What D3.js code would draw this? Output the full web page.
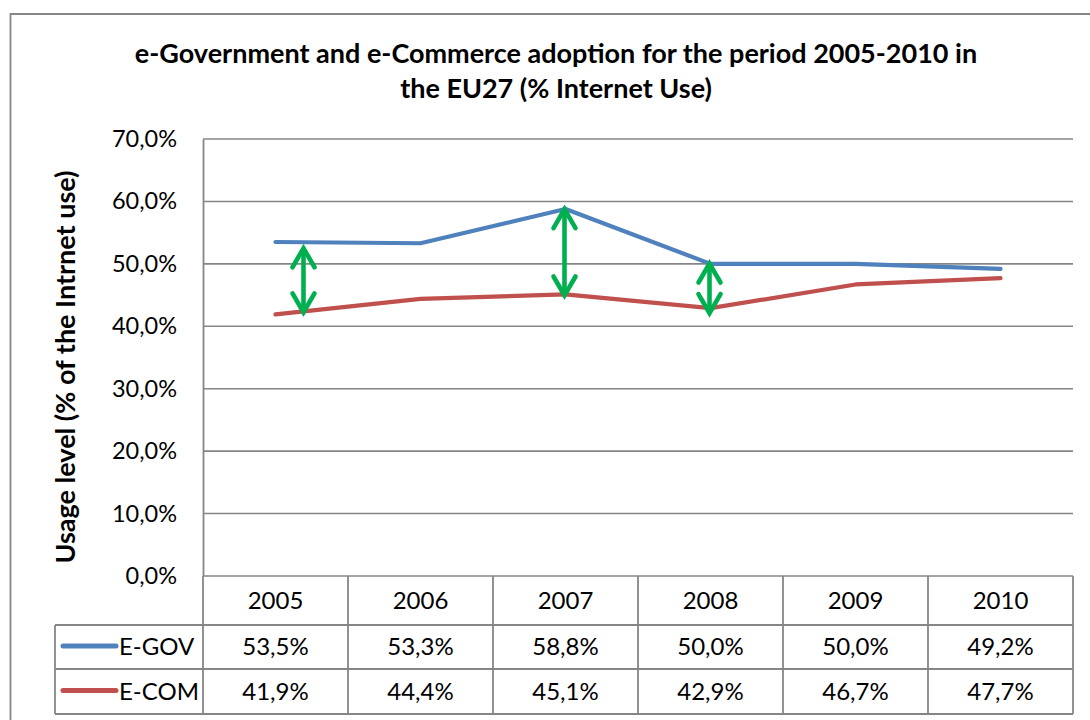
<!DOCTYPE html>
<html>
<head>
<meta charset="utf-8">
<script src="https://cdn.jsdelivr.net/npm/d3@7"></script>
<style>
  html, body { margin: 0; padding: 0; background: #fff; }
  svg { display: block; }
  text { font-family: Lato, "Liberation Sans", sans-serif; fill: #000; }
</style>
</head>
<body>
<svg id="chart" width="1090" height="720"></svg>
<script>
// Series data (share of Internet users, %)
const years = ["2005", "2006", "2007", "2008", "2009", "2010"];
const egov = [53.5, 53.3, 58.8, 50.0, 50.0, 49.2];
const ecom = [41.9, 44.4, 45.1, 42.9, 46.7, 47.7];
const seriesNames = ["E-GOV", "E-COM"];
const seriesColors = ["#4F81BD", "#C0504D"];
const yTicks = [0, 10, 20, 30, 40, 50, 60, 70];
// Years where the gap between the two series is highlighted
const gapYears = ["2005", "2007", "2008"];

const titleLines = [
  "e-Government and e-Commerce adoption for the period 2005-2010 in",
  "the EU27 (% Internet Use)"
];
const yTitle = "Usage level (% of the Intrnet use)";

const svg = d3.select("#chart");
const grid = "#868686";
const fmt = v => v.toFixed(1).replace(".", ",") + "%";

const plot = { left: 203, right: 1073, top: 139, bottom: 576 };
const rowH = [49, 44, 45];

const x = d3.scaleBand().domain(years).range([plot.left, plot.right]);
const y = d3.scaleLinear().domain([0, 70]).range([plot.bottom, plot.top]);
const cx = d => x(d) + x.bandwidth() / 2;

// Outer chart frame
svg.append("path")
  .attr("d", "M1092,14 H10.5 V722")
  .attr("fill", "none").attr("stroke", grid).attr("stroke-width", 1.8);

// Title
const title = svg.append("text")
  .attr("x", 556).attr("text-anchor", "middle")
  .style("font-weight", "bold").style("font-size", "27px");
titleLines.forEach((t, i) => {
  title.append("tspan").attr("x", 556).attr("y", 63 + i * 35).text(t);
});

// Horizontal gridlines
svg.append("g").selectAll("line").data(yTicks).join("line")
  .attr("x1", plot.left).attr("x2", plot.right)
  .attr("y1", d => y(d)).attr("y2", d => y(d))
  .attr("stroke", grid).attr("stroke-width", 1.6);

// Value axis
const yAxis = d3.axisLeft(y).tickValues(yTicks).tickSize(0).tickPadding(26)
  .tickFormat(fmt);
const gy = svg.append("g").attr("transform", `translate(${plot.left},0)`).call(yAxis);
gy.select(".domain").attr("stroke", grid).attr("stroke-width", 1.8);
gy.selectAll("text").style("font-size", "23.5px").style("font-family", "Lato, sans-serif")
  .attr("fill", "#000");

// Value axis title
svg.append("text")
  .attr("transform", "translate(75,367) rotate(-90)")
  .attr("text-anchor", "middle")
  .style("font-weight", "bold").style("font-size", "27px")
  .text(yTitle);

// Lines
const line = d3.line().x((d, i) => cx(years[i])).y(d => y(d));
[egov, ecom].forEach((vals, k) => {
  svg.append("path").datum(vals)
    .attr("d", line)
    .attr("fill", "none")
    .attr("stroke", seriesColors[k])
    .attr("stroke-width", 4.2)
    .attr("stroke-linecap", "round")
    .attr("stroke-linejoin", "round");
});

// Gap arrows between the two series
const arrowColor = "#00B050";
const arrowShift = { "2005": 28, "2007": -1, "2008": -1 };
function valueAt(vals, px) {
  const centers = years.map(cx);
  const xi = d3.scaleLinear().domain(centers).range(vals).clamp(true);
  return xi(px);
}
const ga = svg.append("g");
gapYears.forEach(yr => {
  const px = cx(yr) + arrowShift[yr];
  const top = y(valueAt(egov, px)) + (yr === "2005" ? 6 : 0);
  const bot = y(valueAt(ecom, px)) + (yr === "2008" ? 5 : 1);
  const hw = 11, hh = 19, sw = 4.6;
  ga.append("line").attr("x1", px).attr("x2", px).attr("y1", top + 2).attr("y2", bot - 2)
    .attr("stroke", arrowColor).attr("stroke-width", sw);
  ga.append("path")
    .attr("d", `M${px - hw},${top + hh} L${px},${top} L${px + hw},${top + hh}`)
    .attr("fill", "none").attr("stroke", arrowColor).attr("stroke-width", sw)
    .attr("stroke-linecap", "round").attr("stroke-linejoin", "miter");
  ga.append("path")
    .attr("d", `M${px - hw},${bot - hh} L${px},${bot} L${px + hw},${bot - hh}`)
    .attr("fill", "none").attr("stroke", arrowColor).attr("stroke-width", sw)
    .attr("stroke-linecap", "round").attr("stroke-linejoin", "miter");
});

// Data table below the plot
const tbl = svg.append("g");
const r0 = plot.bottom, r1 = r0 + rowH[0], r2 = r1 + rowH[1], r3 = r2 + rowH[2];
const legendLeft = 55;
function hline(x1, x2, yy) {
  tbl.append("line").attr("x1", x1).attr("x2", x2).attr("y1", yy).attr("y2", yy)
    .attr("stroke", grid).attr("stroke-width", 1.8);
}
function vline(xx, y1, y2) {
  tbl.append("line").attr("x1", xx).attr("x2", xx).attr("y1", y1).attr("y2", y2)
    .attr("stroke", grid).attr("stroke-width", 1.8);
}
hline(legendLeft, plot.right, r1);
hline(legendLeft, plot.right, r2);
hline(legendLeft, plot.right, r3);
vline(legendLeft, r1, r3);
years.forEach(yr => vline(x(yr), r0, r3));
vline(plot.right, r0, r3);

const cellFont = "24px";

// Header: years
tbl.selectAll("text.yr").data(years).join("text")
  .attr("class", "yr")
  .attr("x", d => cx(d)).attr("y", (r0 + r1) / 2 + 8)
  .attr("text-anchor", "middle").style("font-size", cellFont)
  .text(d => d);

// Value rows with legend keys
[egov, ecom].forEach((vals, k) => {
  const top = k === 0 ? r1 : r2;
  const bot = k === 0 ? r2 : r3;
  const mid = (top + bot) / 2;
  tbl.append("line")
    .attr("x1", 63).attr("x2", 116).attr("y1", mid - 1).attr("y2", mid - 1)
    .attr("stroke", seriesColors[k]).attr("stroke-width", 5)
    .attr("stroke-linecap", "round");
  tbl.append("text")
    .attr("x", 119).attr("y", mid + 8)
    .style("font-size", cellFont)
    .text(seriesNames[k]);
  tbl.selectAll(null).data(vals).join("text")
    .attr("x", (d, i) => cx(years[i])).attr("y", mid + 8)
    .attr("text-anchor", "middle").style("font-size", cellFont)
    .text(d => fmt(d));
});
</script>
</body>
</html>
